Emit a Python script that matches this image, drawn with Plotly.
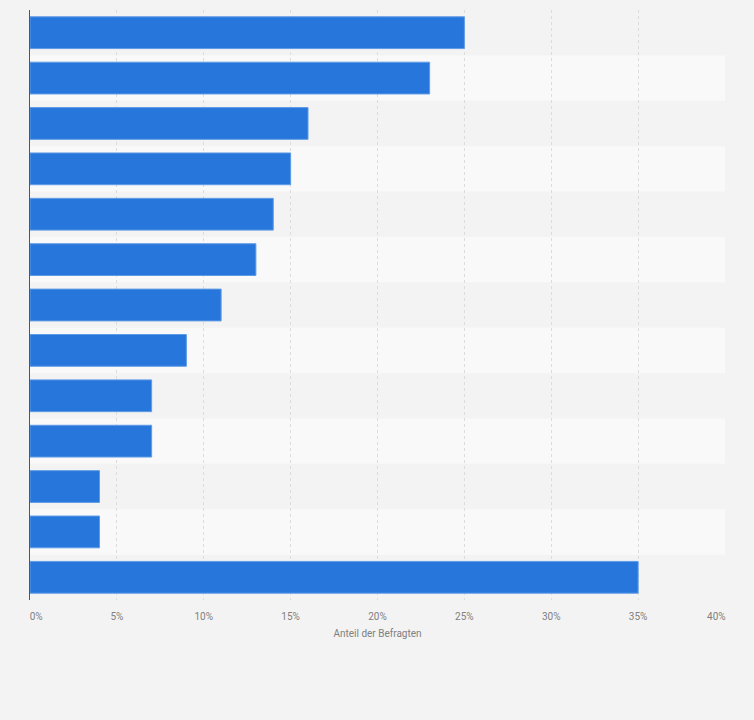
import plotly.graph_objects as go

categories = [f"Kategorie {i}" for i in range(1, 14)]
values = [25, 23, 16, 15, 14, 13, 11, 9, 7, 7, 4, 4, 35]
tick_vals = [0, 5, 10, 15, 20, 25, 30, 35, 40]
tick_text = ["0%", "5%", "10%", "15%", "20%", "25%", "30%", "35%", "40%"]
x_title = "Anteil der Befragten"

# reference places the outermost labels slightly inward
pad = "\u00a0"
shown_text = list(tick_text)
shown_text[0] = pad * 5 + tick_text[0]
shown_text[-1] = tick_text[-1] + pad * 7

fig = go.Figure()
fig.add_trace(go.Bar(
    x=values, y=categories, orientation="h",
    marker=dict(color="#2776dc", line=dict(color="#5f9be6", width=1)),
    width=0.7, hoverinfo="x+y",
))

shapes = []
for i, c in enumerate(categories):
    if i % 2 == 1:
        shapes.append(dict(type="rect", xref="paper", yref="y",
                           x0=0, x1=1, y0=i - 0.5, y1=i + 0.5,
                           fillcolor="#f9f9f9", line=dict(width=0), layer="below"))

fig.update_layout(
    width=754, height=720,
    margin=dict(l=30, r=29, t=10, b=120),
    paper_bgcolor="#f3f3f3", plot_bgcolor="#f3f3f3",
    showlegend=False,
    shapes=shapes,
    font=dict(family="Roboto, Liberation Sans, Arial", color="#666666", size=10),
    bargap=0.3,
)
fig.update_xaxes(
    range=[0, 40], tickvals=tick_vals, ticktext=shown_text,
    showgrid=True, gridcolor="#dcdcdc", griddash="dot", gridwidth=1,
    zeroline=False, showline=False,
    ticks="outside", ticklen=7, tickcolor="rgba(0,0,0,0)",
    tickfont=dict(size=10, color="#808080"),
    title=dict(text=x_title, font=dict(size=10, color="#808080"), standoff=8),
    fixedrange=True,
)
fig.update_yaxes(
    autorange="reversed", showticklabels=False, showgrid=False,
    showline=True, linecolor="#555555", linewidth=1.2, zeroline=False,
    fixedrange=True,
)
fig.write_html(
    "out.html",
    config={"displayModeBar": False},
    post_script="document.body.style.margin='0';document.body.style.background='#f3f3f3';",
)
